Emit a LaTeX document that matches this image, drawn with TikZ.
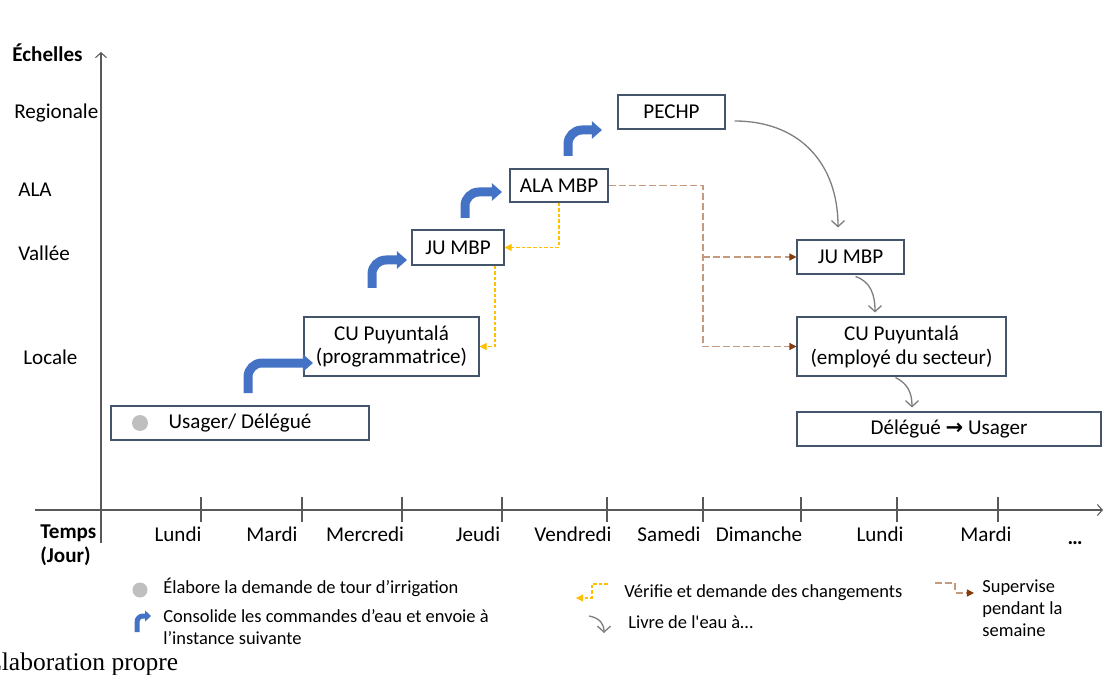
\documentclass[tikz,border=0pt]{standalone}
\usepackage{fontspec}
\setmainfont{Carlito}
\newfontfamily\serifft{Liberation Serif}
\newfontfamily\symft{DejaVu Sans}
\usepackage{tikz}
\usetikzlibrary{arrows.meta,positioning,calc}
\definecolor{bleu}{HTML}{4472C4}
\definecolor{jaune}{HTML}{FFC000}
\definecolor{brun}{HTML}{843C0C}
\definecolor{brunclair}{HTML}{C49A7E}
\definecolor{gris}{HTML}{7F7F7F}
\definecolor{grispt}{HTML}{BFBFBF}
\definecolor{bord}{HTML}{44546A}
\newlength\pxu
\setlength\pxu{0.02cm}

\begin{document}
\begin{tikzpicture}[x=0.02cm,y=-0.02cm,>=Latex,
  every node/.style={font=\fontsize{12}{13.6}\selectfont,inner sep=0pt},
  boite/.style={draw=bord,line width=0.6pt,align=center},
  legende/.style={font=\fontsize{10.5}{12.5}\selectfont,align=left},
  axe/.style={draw=black!65,line width=0.6pt},
  consol/.style={draw=bleu,line width=9\pxu,rounded corners=14\pxu,-{Triangle[length=5.7pt,width=9.6pt]}},
  verif/.style={draw=jaune,line width=0.6pt,dash pattern=on 2pt off 1.2pt,-{Triangle[length=4pt,width=4pt]}},
  superv/.style={draw=brunclair,line width=0.7pt,dash pattern=on 4pt off 1.8pt,-{Triangle[length=4pt,width=4pt,color=brun]}},
  livre/.style={draw=gris,line width=0.75pt,-{Straight Barb[length=3.4pt,width=7.4pt]}}]
\useasboundingbox (0,0) rectangle (1111,675);
% axes
\draw[axe,-{Straight Barb[length=2.8pt,width=6.2pt]}] (101,543) -- (101,52);
\draw[axe,-{Straight Barb[length=2.8pt,width=6.2pt]}] (35,510) -- (1103,510);
\foreach \x in {201,302,402,502,607,703,801,897,998}
  \draw[axe] (\x,497) -- (\x,522);
\node[anchor=west,font=\bfseries\fontsize{12}{13.6}\selectfont] (echelles) at (12,53) {Échelles};
\node[anchor=west] (regionale) at (14,113) {Regionale};
\node[anchor=west] (ala) at (18,190) {ALA};
\node[anchor=west] (vallee) at (18,253) {Vallée};
\node[anchor=west] (locale) at (23,357) {Locale};
\node[anchor=west,align=left,font=\bfseries\fontsize{12}{13.6}\selectfont] (temps) at (40,545) {Temps\\(Jour)};
% jours
\foreach \x/\jour in {178/Lundi,272/Mardi,365/Mercredi,478/Jeudi,573/Vendredi,669/Samedi,759/Dimanche,880/Lundi,986/Mardi}
  \node (j\x) at (\x,534) {\jour};
\node[anchor=base] (suite) at (1075,544) {\textbf{…}};
% boites
\node[boite,minimum width=258\pxu,minimum height=34\pxu] (usager) at (240,423) {Usager/ Délégué};
\node[circle,fill=grispt,minimum size=16\pxu] (pt) at (140,423) {};
\node[boite,minimum width=175\pxu,minimum height=59\pxu] (cuprog) at (391.5,346.5) {CU Puyuntalá\\(programmatrice)};
\node[boite,minimum width=92\pxu,minimum height=35\pxu] (jumbp) at (458,247.5) {JU MBP};
\node[boite,minimum width=98\pxu,minimum height=33\pxu] (alambp) at (559,185.5) {ALA MBP};
\node[boite,minimum width=107\pxu,minimum height=34\pxu] (pechp) at (671.5,112) {PECHP};
\node[boite,minimum width=107\pxu,minimum height=34\pxu] (jumbpb) at (850.5,257) {JU MBP};
\node[boite,minimum width=209\pxu,minimum height=59\pxu] (cuemp) at (901.5,346.5) {CU Puyuntalá\\(employé du secteur)};
\node[boite,minimum width=304\pxu,minimum height=34\pxu] (delegue) at (949,429) {Délégué {\symft\bfseries →} Usager};
% fleches bleues
\foreach \i/\sx/\sy/\ex/\ey in {1/248/393/313/363,2/372/288/407/260,3/465/218/502/192,4/568/156/602/130}{
  \coordinate (b\i) at (\sx,\sy);
  \coordinate (e\i) at (\ex,\ey);
  \draw[consol] (b\i) |- (e\i);
}
% verification
\draw[verif] (alambp.south) |- (jumbp.east);
\draw[verif] ([xshift=37\pxu]jumbp.south) |- (cuprog.east);
% supervision
\coordinate (sv) at (703,186);
\draw[superv] (alambp.east) -| (sv |- cuemp.west) -- (cuemp.west);
\draw[superv] (sv |- jumbpb.west) -- (jumbpb.west);
% livraison
\draw[livre] ([xshift=9\pxu,yshift=-9\pxu]pechp.east) .. controls +(66,0) and +(0,-63) .. ([xshift=-12.5\pxu,yshift=12\pxu]jumbpb.north);
\draw[livre] ([xshift=5\pxu,yshift=-2\pxu]jumbpb.south) .. controls +(15,5) and +(0,-18) .. ([xshift=-26.5\pxu,yshift=4\pxu]cuemp.north);
\draw[livre] ([xshift=-6\pxu,yshift=-1\pxu]cuemp.south) .. controls +(12,6) and +(0,-15) .. ([xshift=-37\pxu,yshift=4\pxu]delegue.north);
% legende
\node[circle,fill=grispt,minimum size=15\pxu] (lpt) at (140,590) {};
\node[legende,anchor=west] (lelab) at (163,587) {Élabore la demande de tour d’irrigation};
\coordinate (lb) at (137,632);
\coordinate (le) at (151,616);
\draw[consol,line width=5\pxu,rounded corners=6\pxu,-{Triangle[length=3.4pt,width=6.2pt]}] (lb) |- (le);
\node[legende,anchor=west] (lcons) at (163,627) {Consolide les commandes d’eau et envoie à\\l’instance suivante};
\coordinate (lv) at (608,584);
\draw[verif] (lv) -- (592,584) |- (576,598);
\node[legende,anchor=west] (lverif) at (624,593) {Vérifie et demande des changements};
\coordinate (ll) at (589,616);
\draw[livre] (ll) .. controls +(11,2) and +(0,-9) .. (604,633);
\node[legende,anchor=west] (llivre) at (628,622) {Livre de l\textquotesingle eau à…};
\coordinate (ls) at (935,583);
\draw[superv] (ls) -- (955,583) |- (974,593);
\node[legende,anchor=west] (lsup) at (982,608) {Supervise\\pendant la\\semaine};
% source
\node[anchor=base west,font=\serifft\fontsize{14.5}{16}\selectfont] (source) at (-14,670) {Élaboration propre};
\end{tikzpicture}
\end{document}
